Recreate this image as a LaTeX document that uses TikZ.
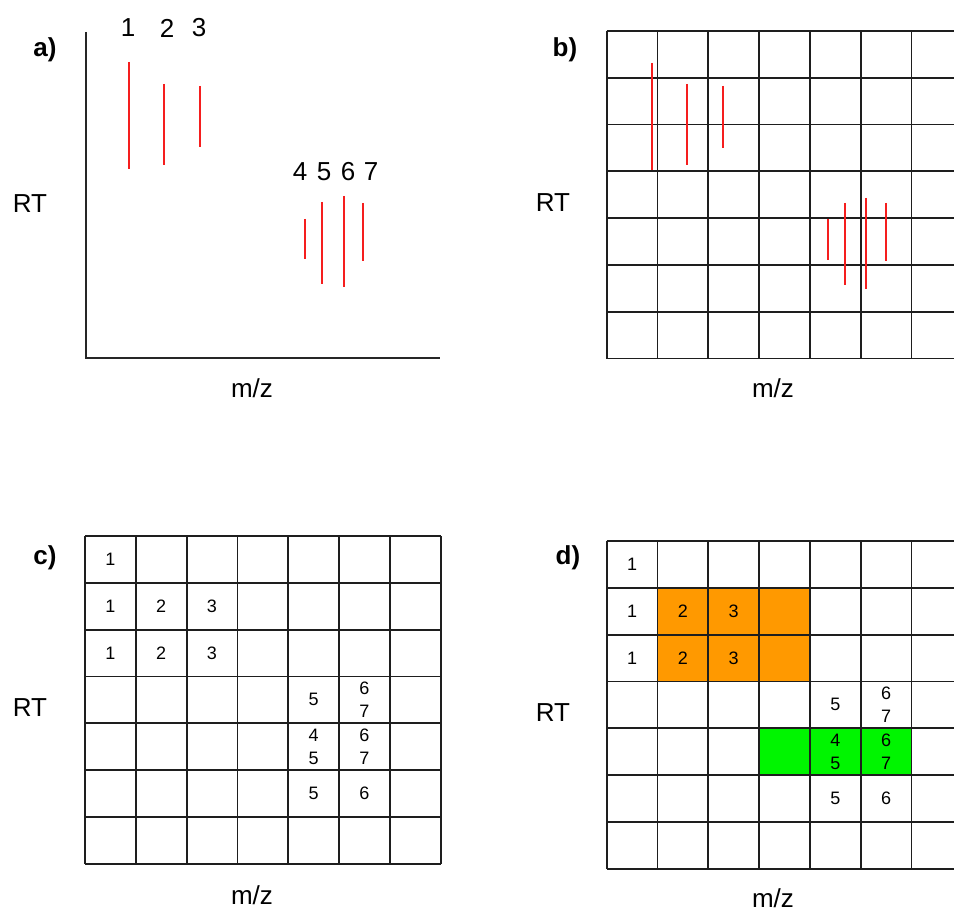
\documentclass[tikz,border=0pt]{standalone}
\usepackage{fontspec}
\setmainfont{Liberation Sans}
\usepackage{tikz}
\definecolor{PeakRed}{RGB}{245,30,30}
\definecolor{BinOrange}{RGB}{255,153,0}
\definecolor{BinGreen}{RGB}{0,245,0}
\definecolor{GridInk}{RGB}{30,30,30}
% cells that hold peaks: column/row/peak numbers
\newcommand{\binhits}{1/1/1, 1/2/1, 2/2/2, 3/2/3, 1/3/1, 2/3/2, 3/3/3,
  5/4/5, 6/4/{6\\7}, 5/5/{4\\5}, 6/5/{6\\7}, 5/6/5, 6/6/6}

\begin{document}
\begin{tikzpicture}[x=1pt, y=-1pt,
    axlbl/.style={font=\fontsize{26}{30}\selectfont},
    panellbl/.style={font=\fontsize{26}{30}\selectfont\bfseries},
    cellnum/.style={font=\fontsize{18}{23}\selectfont, align=center, inner sep=0pt},
    peak/.style={PeakRed, line width=1.8pt},
    gridline/.style={GridInk, line width=1.8pt},
    axisline/.style={black!85, line width=1.8pt}]
        \clip (0,0) rectangle (954,909);

        % Panel a: peaks in RT vs m/z
        \node[panellbl] (labA) at (45,50) {a)};
        \draw[axisline] (85.7,32) -- (85.7,358) -- (440,358);
        \foreach \px/\ytop/\ybot in {
          129/62/169, 164/84/165, 200/86/147,
          305/219/259, 322/202/284, 344/196/287, 363/203/261
        } {
          \draw[peak] (\px,\ytop) -- (\px,\ybot);
        }
        \foreach \n/\nx/\ny in {
          1/128/28, 2/167/28, 3/199/28,
          4/300/172, 5/324/172, 6/348/172, 7/371/172
        } {
          \node[axlbl] (pk-\n) at (\nx,\ny) {\n};
        }
        \node[axlbl] (rtA) at (30,204) {RT};
        \node[axlbl] (mzA) at (252,388) {m/z};

        % Panel b: peaks over the bin grid
        \node[panellbl] (labB) at (565,50) {b)};
        \begin{scope}[shift={(606.7,31)}]
          \foreach \k in {0,...,7} {
            \draw[gridline] (\k*50.8,0) -- (\k*50.8,327.6);
            \draw[gridline] (0,\k*46.8) -- (355.6,\k*46.8);
          }
          \foreach \px/\ytop/\ybot in {
            45.3/32/139, 80.6/53/134, 116.3/55/117,
            221.6/188/229, 238.3/172/254, 259/167/258, 279/172/230
          } {
            \draw[peak] (\px,\ytop) -- (\px,\ybot);
          }
        \end{scope}
        \node[axlbl] (rtB) at (553,203) {RT};
        \node[axlbl] (mzB) at (773,388) {m/z};

        % Panel c: peak numbers per bin
        \node[panellbl] (labC) at (45,558) {c)};
        \begin{scope}[shift={(85,536)}]
          \foreach \k in {0,...,7} {
            \draw[gridline] (\k*50.8,0) -- (\k*50.8,327.6);
            \draw[gridline] (0,\k*46.8) -- (355.6,\k*46.8);
          }
          \foreach \c/\r/\t in \binhits {
            \node[cellnum] (c-\c-\r) at ({(\c-0.5)*50.8},{(\r-0.5)*46.8}) {\t};
          }
        \end{scope}
        \node[axlbl] (rtC) at (30,708) {RT};
        \node[axlbl] (mzC) at (252,895) {m/z};

        % Panel d: grouped bins
        \node[panellbl] (labD) at (568,558) {d)};
        \begin{scope}[shift={(606.7,541)}]
          \fill[BinOrange] (50.8,46.8) rectangle (203.2,140.4);
          \fill[BinGreen] (152.4,187.2) rectangle (304.8,234);
          \foreach \k in {0,...,7} {
            \draw[gridline] (\k*50.8,0) -- (\k*50.8,327.6);
            \draw[gridline] (0,\k*46.8) -- (355.6,\k*46.8);
          }
          \foreach \c/\r/\t in \binhits {
            \node[cellnum] (d-\c-\r) at ({(\c-0.5)*50.8},{(\r-0.5)*46.8}) {\t};
          }
        \end{scope}
        \node[axlbl] (rtD) at (553,713) {RT};
        \node[axlbl] (mzD) at (773,898) {m/z};
      \end{tikzpicture}
\end{document}
